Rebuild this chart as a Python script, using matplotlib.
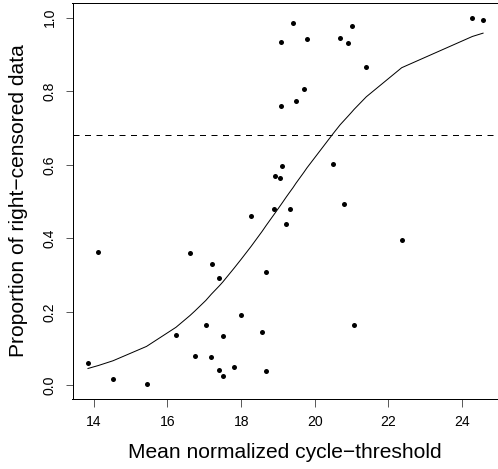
import matplotlib
matplotlib.use('Agg')
import matplotlib.pyplot as plt
from matplotlib import transforms

plt.rcParams['font.family'] = ['Liberation Sans', 'DejaVu Sans']

# observed points: mean normalized Ct vs proportion right-censored
ct = [13.84, 14.12, 14.52, 15.43, 16.23, 16.61, 16.74, 17.04, 17.19, 17.21,
      17.41, 17.41, 17.50, 17.50, 17.81, 18.00, 18.27, 18.57, 18.68, 18.68,
      18.88, 18.93, 19.05, 19.12, 19.09, 19.07, 19.23, 19.33, 19.41, 19.49,
      19.70, 19.79, 20.50, 20.69, 20.80, 20.91, 21.00, 21.07, 21.40, 22.36,
      24.28, 24.57]
prop = [0.060, 0.363, 0.017, 0.004, 0.136, 0.360, 0.081, 0.165, 0.077, 0.329,
        0.293, 0.041, 0.135, 0.025, 0.051, 0.191, 0.462, 0.145, 0.309, 0.038,
        0.480, 0.570, 0.565, 0.598, 0.760, 0.934, 0.439, 0.481, 0.985, 0.773,
        0.806, 0.943, 0.602, 0.946, 0.492, 0.930, 0.978, 0.163, 0.865, 0.396,
        0.999, 0.993]

# fitted curve read at the sorted x values
fit_x = [13.84, 14.12, 14.52, 15.43, 16.23, 16.61, 16.74, 17.04, 17.19, 17.41,
         17.50, 17.81, 18.00, 18.27, 18.57, 18.68, 18.88, 18.93, 19.05, 19.12,
         19.23, 19.33, 19.41, 19.49, 19.70, 19.79, 20.50, 20.69, 20.80, 20.91,
         21.00, 21.07, 21.40, 22.36, 24.28, 24.57]
fit_y = [0.046, 0.054, 0.067, 0.106, 0.158, 0.190, 0.202, 0.231, 0.248, 0.271,
         0.281, 0.319, 0.343, 0.378, 0.419, 0.435, 0.463, 0.470, 0.487, 0.497,
         0.513, 0.527, 0.538, 0.550, 0.579, 0.592, 0.685, 0.709, 0.721, 0.733,
         0.743, 0.751, 0.785, 0.864, 0.949, 0.958]

cutoff = 0.681

xticks = [14, 16, 18, 20, 22, 24]
yticks = [0.0, 0.2, 0.4, 0.6, 0.8, 1.0]

dpi = 72
W, H = 498, 469
fig = plt.figure(figsize=(W / dpi, H / dpi), dpi=dpi)
ax = fig.add_axes([72.5 / W, 70 / H, 427.5 / W, 396 / H])

ax.plot(ct, prop, 'o', color='black', markersize=5, markeredgewidth=0)
ax.plot(fit_x, fit_y, color='black', linewidth=1.0)
ax.axhline(cutoff, color='black', linewidth=1.0, dashes=(6, 5.5))

ax.set_xlim(13.42, 25.03)
ax.set_ylim(-0.037, 1.04)
ax.set_xticks(xticks)
ax.set_xticklabels([str(t) for t in xticks])
ax.set_yticks(yticks)
ax.set_yticklabels(['%.1f' % t for t in yticks], rotation=90, va='center')
ax.tick_params(direction='out', length=7.5, width=0.8, labelsize=14, colors='#333333', labelcolor='black')
ax.tick_params(axis='x', pad=8)
ax.tick_params(axis='y', pad=8.5)

ax.set_xlabel('Mean normalized cycle\u2212threshold', fontsize=21, va='baseline')
ax.set_ylabel('Proportion of right\u2212censored data', fontsize=21, va='baseline')
ax.xaxis.set_label_coords(0.5 - 1.5 / 427.5, 10.7 / H,
                          transform=transforms.blended_transform_factory(ax.transAxes, fig.transFigure))
ax.yaxis.set_label_coords(24 / W, 0.5,
                          transform=transforms.blended_transform_factory(fig.transFigure, ax.transAxes))
for s in ax.spines.values():
    s.set_linewidth(1.0)

fig.savefig('out.png', dpi=dpi)
